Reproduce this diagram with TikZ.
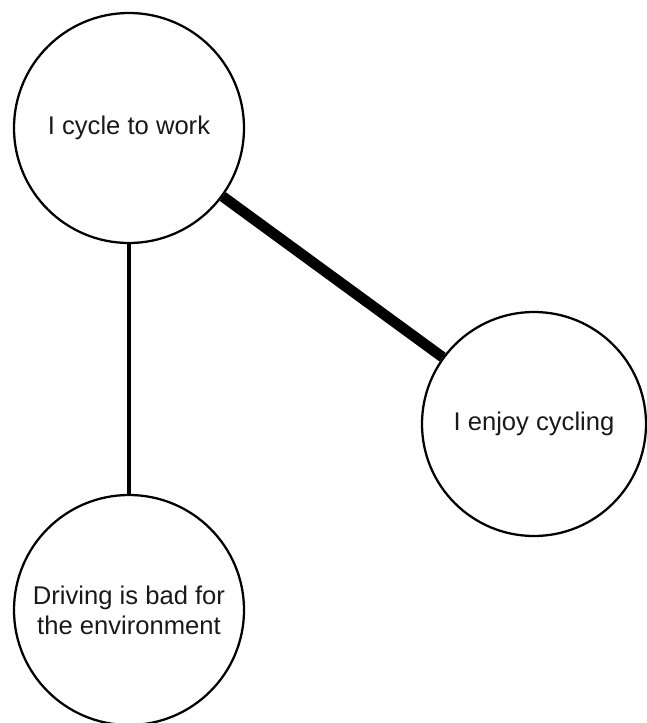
\documentclass[tikz,border=0pt]{standalone}
\usepackage{fontspec}
\setmainfont{Liberation Sans}
\begin{document}
\begin{tikzpicture}[x=0.75pt,y=-0.75pt,
  bubble/.style={circle,draw=black,line width=1.7pt,inner sep=0pt,align=center,
    font=\fontsize{19.2}{22.5}\selectfont,text=black!90}]
\useasboundingbox (0,0) rectangle (646,723);
\node[bubble,minimum size=172.5pt] (work) at (129,128) {I cycle to work};
\node[bubble,minimum size=168pt] (enjoy) at (534,424) {I enjoy cycling};
\node[bubble,minimum size=172.5pt] (drive) at (129,610) {Driving is bad for\\the environment};
\draw[line width=3pt] (work.south) -- (drive.north);
\draw[line width=8pt] (work) -- (enjoy);
\end{tikzpicture}
\end{document}
